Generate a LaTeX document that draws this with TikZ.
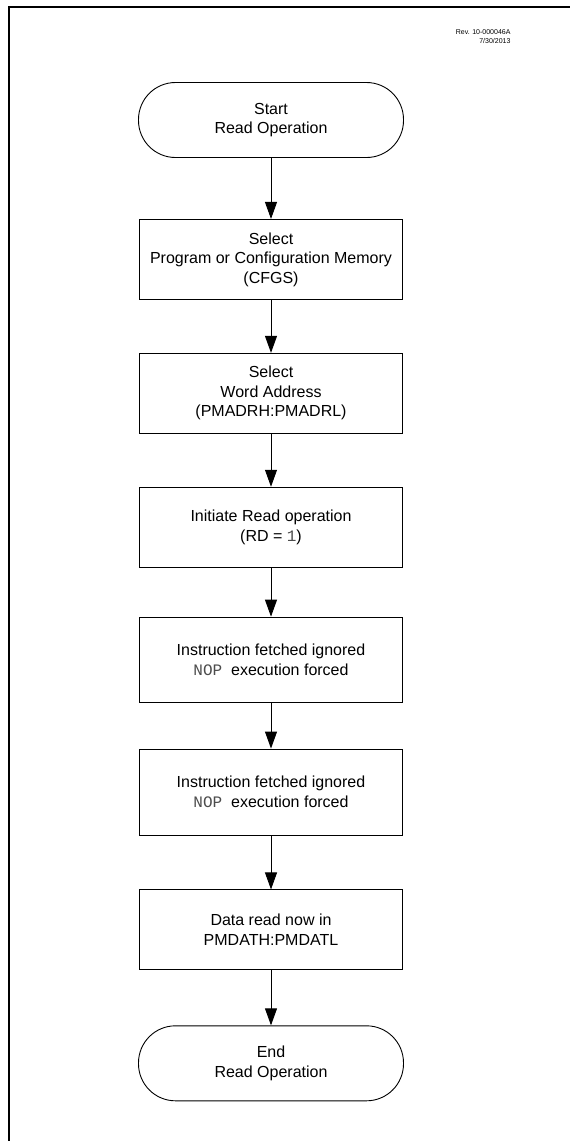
\documentclass[tikz,border=0pt]{standalone}
\usepackage{fontspec}
\setmainfont{Liberation Sans}
\setmonofont{Liberation Mono}
\usetikzlibrary{positioning, arrows.meta}
\tikzset{
  block_font/.style = {font=\fontsize{16}{19.5}\selectfont},
  banner_font/.style = {font=\fontsize{7}{9}\selectfont},
  box_size/.style = {minimum width=263, minimum height=80},
  box_line/.style = {draw, line width=0.9}
}
\tikzset{
  terminal/.style = {block_font, box_line, align=center, minimum width=265, minimum height=75, rounded corners=37},
  block/.style = {block_font, box_line, box_size, align=center},
  tall/.style = {minimum height=#1},
  arrow/.style = {line width=0.9, -{Triangle[length=17, width=12]}},
  banner/.style = {banner_font, align=right, anchor=north east},
  frame/.style = {line width=2.6}
}
\newcommand{\monotext}[1]{\textcolor{black!70}{\texttt{#1}}}
\begin{document}
\begin{tikzpicture}[x=1pt, y=1pt, node distance=55]
        \useasboundingbox (0,0) rectangle (570,-1141);

        % Frame and revision
        \draw[frame] (9,-1141)--(9,-7)--(570,-7);
        \node[banner] at (514,-26) (rev) {
            Rev. 10-000046A\\
            7/30/2013
            };

        % Steps
        \node[terminal] at (271,-120) (start) {
            Start\\
            Read Operation
            };
        \node[block, below=61 of start] (select_mem) {
            Select\\
            Program or Configuration Memory\\
            (CFGS)
            };
        \node[block, below=53 of select_mem] (select_addr) {
            Select\\
            Word Address\\
            (PMADRH:PMADRL)
            };
        \node[block, below=53 of select_addr] (initiate) {
            Initiate Read operation\\
            (RD = \monotext{1})
            };
        \node[block, tall=85, below=49 of initiate] (ignored_1) {
            Instruction fetched ignored\\
            \monotext{NOP}~ execution forced
            };
        \node[block, tall=86, below=46 of ignored_1] (ignored_2) {
            Instruction fetched ignored\\
            \monotext{NOP}~ execution forced
            };
        \node[block, below=54 of ignored_2] (data) {
            Data read now in\\
            PMDATH:PMDATL
            };
        \node[terminal, below=55 of data] (end) {
            End\\
            Read Operation
            };

        % Arrows
        \draw[arrow] (start)--(select_mem);
        \draw[arrow] (select_mem)--(select_addr);
        \draw[arrow] (select_addr)--(initiate);
        \draw[arrow] (initiate)--(ignored_1);
        \draw[arrow] (ignored_1)--(ignored_2);
        \draw[arrow] (ignored_2)--(data);
        \draw[arrow] (data)--(end);
    \end{tikzpicture}
\end{document}
